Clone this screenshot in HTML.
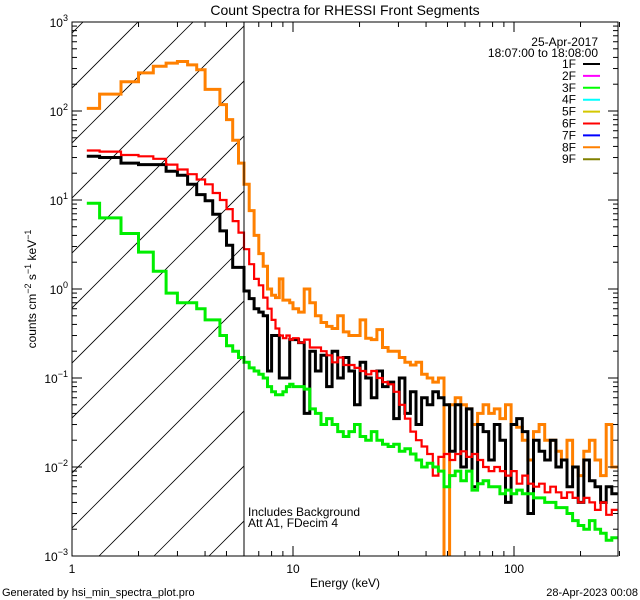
<!DOCTYPE html>
<html><head><meta charset="utf-8"><style>
html,body{margin:0;padding:0;background:#fff;}
svg{display:block;font-family:"Liberation Sans","DejaVu Sans",sans-serif;}
</style></head><body>
<svg id="chart" width="640" height="600" viewBox="0 0 640 600">
<defs><clipPath id="plotclip"><rect x="72" y="22" width="546" height="534"/></clipPath>
<clipPath id="hatchclip"><rect x="72" y="22" width="172" height="534"/></clipPath></defs>
<text x="345" y="15" font-size="14" text-anchor="middle">Count Spectra for RHESSI Front Segments</text>
<g id="hatch" clip-path="url(#hatchclip)"></g>
<g id="series" clip-path="url(#plotclip)"></g>
<line x1="244" y1="22" x2="244" y2="556" stroke="#000" stroke-width="1"/>
<rect x="72" y="22" width="546" height="534" fill="none" stroke="#000" stroke-width="1"/>
<g id="axes"></g>
<text transform="translate(36,289) rotate(-90)" font-size="12" text-anchor="middle">counts cm<tspan dy="-5" font-size="9">−2</tspan><tspan dy="5"> s</tspan><tspan dy="-5" font-size="9">−1</tspan><tspan dy="5"> keV</tspan><tspan dy="-5" font-size="9">−1</tspan></text>
<text x="345" y="587" font-size="12" text-anchor="middle">Energy (keV)</text>
<text x="248" y="516" font-size="12">Includes Background</text>
<text x="248" y="527" font-size="12">Att A1, FDecim  4</text>
<text x="2" y="596" font-size="11">Generated by hsi_min_spectra_plot.pro</text>
<text x="638" y="596" font-size="11" text-anchor="end">28-Apr-2023 00:08</text>
<text x="598" y="46" font-size="12" text-anchor="end">25-Apr-2017</text>
<text x="598" y="57" font-size="12" text-anchor="end">18:07:00 to 18:08:00</text>
<g id="legend"></g>
</svg>
<script>
const lowEdgesStart = 1.1667;
const orangeLow = [107,155,213,268,318,345,360,330,290,175,175,118,80,47,26,15,7.6,4,2.5,1.8,1.0,0.85,0.8,1.3,0.75,0.75,0.7];
const orangeHigh = [0.6,0.55,1.0,0.7,0.5,0.42,0.38,0.36,0.5,0.33,
0.3,0.3,0.45,0.28,0.27,0.35,0.22,0.2,0.2,0.17,
0.15,0.14,0.15,0.11,0.1,0.09,0.1,0.0009,0.05,0.06,
0.05,0.045,0.03,0.04,0.05,0.04,0.045,0.035,0.05,0.03,
0.028,0.02,0.012,0.025,0.03,0.02,0.02,0.015,0.012,0.02,
0.01,0.008,0.015,0.02,0.012,0.008,0.03,0.01];
const blackLow = [31,30,26,25,25,21,19,15,11.5,9.8,6.9,4.5,3.1,1.75,1.75,0.95,0.78,0.6,0.55,0.5,0.12,0.3,0.3,0.1,0.1,0.1,0.27];
const blackHigh = [0.27,0.25,0.04,0.2,0.12,0.18,0.08,0.2,0.1,0.17,
0.12,0.05,0.15,0.1,0.06,0.12,0.08,0.09,0.035,0.1,
0.04,0.07,0.03,0.06,0.05,0.07,0.06,0.05,0.015,0.05,
0.01,0.045,0.006,0.03,0.025,0.012,0.03,0.02,0.004,0.03,
0.035,0.025,0.003,0.02,0.015,0.012,0.02,0.01,0.012,0.006,
0.01,0.004,0.012,0.007,0.006,0.004,0.006,0.005];
const redLow = [36,35,32,31,29,25,22,19.5,17,15,12,10,7.9,5.8,4.3,2.8,1.9,1.3,1.1,0.8,0.6,0.45,0.36,0.3,0.28,0.3,0.27];
const redHigh = [0.28,0.25,0.27,0.22,0.22,0.2,0.18,0.15,0.17,0.14,
0.14,0.13,0.12,0.11,0.12,0.1,0.09,0.085,0.07,0.05,
0.035,0.025,0.02,0.017,0.014,0.008,0.013,0.014,0.012,0.014,
0.015,0.013,0.014,0.012,0.01,0.009,0.01,0.009,0.008,0.009,
0.0065,0.008,0.0065,0.006,0.0065,0.0052,0.006,0.0052,0.0045,0.0052,
0.0045,0.004,0.0045,0.004,0.0033,0.004,0.0029,0.0033];
const greenLow = [9.2,6.3,4.2,2.6,1.58,0.9,0.7,0.7,0.6,0.45,0.45,0.3,0.23,0.2,0.17,0.15,0.13,0.12,0.11,0.1,0.08,0.07,0.065,0.065,0.07,0.08,0.085];
const greenHigh = [0.08,0.08,0.075,0.045,0.04,0.03,0.035,0.03,0.025,0.022,
0.025,0.03,0.022,0.02,0.025,0.02,0.018,0.017,0.018,0.015,
0.016,0.014,0.012,0.01,0.011,0.01,0.009,0.006,0.008,0.009,
0.007,0.009,0.0055,0.0065,0.007,0.006,0.006,0.005,0.0055,0.005,
0.0055,0.005,0.005,0.0045,0.0045,0.004,0.004,0.0035,0.0035,0.003,
0.0025,0.0022,0.002,0.0025,0.002,0.0018,0.0015,0.0016];
const legendLabels = ["1F","2F","3F","4F","5F","6F","7F","8F","9F"];
const legendColors = ["#000000","#ff00ff","#00ff00","#00ffff","#d4c800","#ff0000","#0000ff","#ff8000","#808000"];
const yTickLabels = ["-3","-2","-1","0","1","2","3"];
const xTickLabels = ["1","10","100"];

const NS="http://www.w3.org/2000/svg";
const X0=72,X1=618,Y0=22,Y1=556;
const xs=e=>X0+221*Math.log10(e);
const ys=v=>Y0+(3-Math.log10(v))*89;
function mk(tag,attrs,parent){const el=document.createElementNS(NS,tag);for(const k in attrs)el.setAttribute(k,attrs[k]);parent.appendChild(el);return el;}

function edges(nLow,nHigh){const ed=[lowEdgesStart];for(let k=1;k<=nLow;k++)ed.push(1+k/3);
 let e=ed[ed.length-1];for(let i=0;i<nHigh;i++){e*=1.06;ed.push(e);}return ed;}

const hatch=document.getElementById('hatch');
for(let k=-12;k<6;k++){const bx=99+55*k;
 const l=mk('line',{x1:bx,y1:556,x2:bx+600,y2:556-600,stroke:'#000','stroke-width':0.8},hatch);
 
 }

const seriesG=document.getElementById('series');
function drawSeries(low,high,color,w,name){
 const vals=low.concat(high);const ed=edges(low.length,high.length);
 let d='';for(let i=0;i<vals.length;i++){const y=ys(vals[i]).toFixed(1);
  d+=(i===0?'M':'L')+xs(ed[i]).toFixed(1)+','+y+'L'+xs(ed[i+1]).toFixed(1)+','+y;}
 const p=mk('path',{d:d,fill:'none',stroke:color,'stroke-width':w,'stroke-linejoin':'miter'},seriesG);
 
 }
drawSeries(orangeLow,orangeHigh,'#ff8000',3,'series-8f');
drawSeries(blackLow,blackHigh,'#000000',3,'series-1f');
drawSeries(redLow,redHigh,'#ff0000',2.2,'series-6f');
drawSeries(greenLow,greenHigh,'#00ee00',3,'series-3f');

const axes=document.getElementById('axes');
for(let dec=0;dec<3;dec++){for(let m=1;m<10;m++){const e=m*Math.pow(10,dec);if(e>300)break;const x=xs(e);const L=m===1?10:5;
 const t1=mk('line',{x1:x,y1:Y1,x2:x,y2:Y1-L,stroke:'#000'},axes);
 
 
 const t2=mk('line',{x1:x,y1:Y0,x2:x,y2:Y0+L,stroke:'#000'},axes);
 
 }}
xTickLabels.forEach((lab,i)=>{const t=mk('text',{x:xs(Math.pow(10,i)),y:573,'font-size':12,'text-anchor':'middle'},axes);t.textContent=lab;
 
 });
for(let p=-3;p<3;p++){for(let m=1;m<10;m++){const v=m*Math.pow(10,p);const y=ys(v);const L=m===1?10:5;
 const t1=mk('line',{x1:X0,y1:y,x2:X0+L,y2:y,stroke:'#000'},axes);
 
 
 const t2=mk('line',{x1:X1,y1:y,x2:X1-L,y2:y,stroke:'#000'},axes);
 
 }}
yTickLabels.forEach(lab=>{const y=ys(Math.pow(10,+lab));const t=mk('text',{x:68,y:y+5,'font-size':12,'text-anchor':'end'},axes);
 t.innerHTML='10<tspan dy="-6" font-size="9">'+lab.replace('-','−')+'</tspan>';
 
 });

const leg=document.getElementById('legend');
legendLabels.forEach((lab,i)=>{const y=64+i*11.9;
 const t=mk('text',{x:576,y:y+4,'font-size':12,'text-anchor':'end'},leg);t.textContent=lab;
 
 
 const l=mk('line',{x1:583,y1:y,x2:600,y2:y,stroke:legendColors[i],'stroke-width':2},leg);
 
 });
</script>
</body></html>
